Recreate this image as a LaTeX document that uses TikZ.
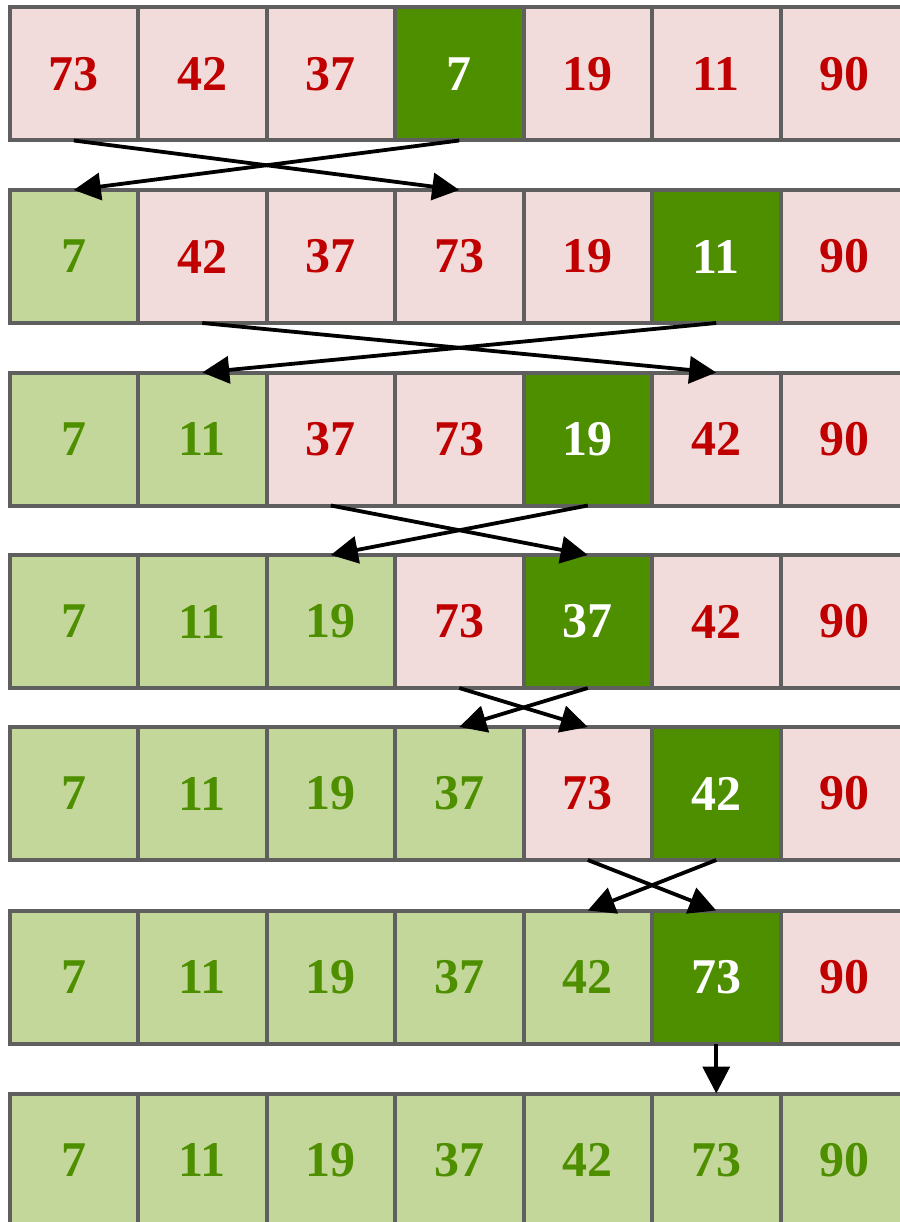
\documentclass[tikz,border=0pt]{standalone}
\usepackage{fontspec}
\setmainfont{Liberation Serif}
\usetikzlibrary{arrows.meta}
\definecolor{pinkf}{HTML}{F2DCDB}
\definecolor{redt}{HTML}{C00000}
\definecolor{lgreen}{HTML}{C4D79B}
\definecolor{dgreen}{HTML}{4E8F00}
\definecolor{bordc}{HTML}{5F5F5F}
\begin{document}
\begin{tikzpicture}[x=1pt,y=-1pt,
  cell/.style={draw=bordc, line width=4pt, minimum width=128.5pt, minimum height=133pt,
    inner sep=0pt, outer sep=0pt, font=\fontsize{50}{50}\selectfont\bfseries},
  cr/.style={cell, fill=pinkf, text=redt},
  cg/.style={cell, fill=lgreen, text=dgreen},
  ca/.style={cell, fill=dgreen, text=white},
  arr/.style={draw=black, line width=3.8pt, -{Triangle[length=27pt,width=27pt]}}]
\useasboundingbox (0,0) rectangle (899,1222);
\foreach \c/\v/\s in {0/73/cr,1/42/cr,2/37/cr,3/7/ca,4/19/cr,5/11/cr,6/90/cr}
  \node[\s] (r1c\c) at (73.75+128.5*\c, 74) {\v};
\foreach \c/\v/\s in {0/7/cg,1/42/cr,2/37/cr,3/73/cr,4/19/cr,5/11/ca,6/90/cr}
  \node[\s] (r2c\c) at (73.75+128.5*\c, 256.5) {\v};
\foreach \c/\v/\s in {0/7/cg,1/11/cg,2/37/cr,3/73/cr,4/19/ca,5/42/cr,6/90/cr}
  \node[\s] (r3c\c) at (73.75+128.5*\c, 439) {\v};
\foreach \c/\v/\s in {0/7/cg,1/11/cg,2/19/cg,3/73/cr,4/37/ca,5/42/cr,6/90/cr}
  \node[\s] (r4c\c) at (73.75+128.5*\c, 621.5) {\v};
\foreach \c/\v/\s in {0/7/cg,1/11/cg,2/19/cg,3/37/cg,4/73/cr,5/42/ca,6/90/cr}
  \node[\s] (r5c\c) at (73.75+128.5*\c, 793.5) {\v};
\foreach \c/\v/\s in {0/7/cg,1/11/cg,2/19/cg,3/37/cg,4/42/cg,5/73/ca,6/90/cr}
  \node[\s] (r6c\c) at (73.75+128.5*\c, 977) {\v};
\foreach \c/\v/\s in {0/7/cg,1/11/cg,2/19/cg,3/37/cg,4/42/cg,5/73/cg,6/90/cg}
  \node[\s] (r7c\c) at (73.75+128.5*\c, 1160) {\v};
\draw[arr] (r1c0.south) -- (r2c3.north);
\draw[arr] (r1c3.south) -- (r2c0.north);
\draw[arr] (r2c1.south) -- (r3c5.north);
\draw[arr] (r2c5.south) -- (r3c1.north);
\draw[arr] (r3c2.south) -- (r4c4.north);
\draw[arr] (r3c4.south) -- (r4c2.north);
\draw[arr] (r4c3.south) -- (r5c4.north);
\draw[arr] (r4c4.south) -- (r5c3.north);
\draw[arr] (r5c4.south) -- (r6c5.north);
\draw[arr] (r5c5.south) -- (r6c4.north);
\draw[arr] (r6c5.south) -- (r7c5.north);
\end{tikzpicture}
\end{document}
